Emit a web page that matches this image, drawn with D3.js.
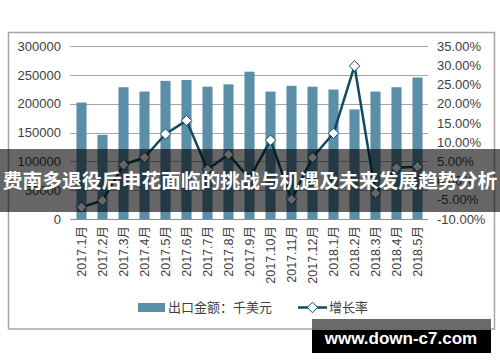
<!DOCTYPE html>
<html>
<head>
<meta charset="utf-8">
<script src="https://cdn.jsdelivr.net/npm/d3@7"></script>
<style>
  body { margin: 0; background: #fff; }
  svg { display: block; }
</style>
</head>
<body>
<svg id="chart" width="500" height="362"></svg>
<script>
// chart data
const months = ['2017.1月', '2017.2月', '2017.3月', '2017.4月', '2017.5月', '2017.6月', '2017.7月', '2017.8月', '2017.9月',
    '2017.10月', '2017.11月', '2017.12月', '2018.1月', '2018.2月', '2018.3月', '2018.4月', '2018.5月']
const exportValues = [202000, 146000, 228500, 221000, 239500, 241000, 229500, 233500, 255500,
    221000, 231000, 229500, 224500, 190000, 221000, 228500, 245500]
const growthRates = [-6.9, -5.2, 4.1, 6.0, 12.1, 15.6, 2.9, 6.8, 0.5,
    10.5, -4.9, 6.0, 12.3, 29.8, -3.3, 3.3, 3.6]
const leftTicks = [0, 50000, 100000, 150000, 200000, 250000, 300000]
const rightTicks = [-10, -5, 0, 5, 10, 15, 20, 25, 30, 35]

const barColor = '#5b8fa8'
const lineColor = '#0f4a5f'
const textColor = '#404040'
const font = '"Liberation Sans", Arial, "Noto Sans CJK SC", sans-serif'

const svg = d3.select('#chart')

//outer frame
svg.append('rect')
    .attr('x', 8.5).attr('y', 32.5)
    .attr('width', 486).attr('height', 296.5)
    .attr('fill', '#fff')
    .attr('stroke', '#a6a6a6')
    .attr('stroke-width', 1.5)

//scales
const x = d3.scaleBand()
    .domain(months)
    .range([71, 428])
    .paddingInner(0.52)
    .paddingOuter(0.26)

const xc = d => x(d) + x.bandwidth() / 2

const yL = d3.scaleLinear().domain([0, 300000]).range([219, 46])
const yR = d3.scaleLinear().domain([-10, 35]).range([219, 46])

//gridlines
svg.append('g')
    .selectAll('line')
    .data(leftTicks.filter(d => d > 0))
    .join('line')
    .attr('x1', 70).attr('x2', 428)
    .attr('y1', d => Math.round(yL(d)) + 0.5)
    .attr('y2', d => Math.round(yL(d)) + 0.5)
    .attr('stroke', '#a6a6a6')

//left axis
const leftAxis = svg.append('g')
    .attr('transform', 'translate(70,0)')
    .call(d3.axisLeft(yL).tickValues(leftTicks).tickSize(0).tickPadding(9).tickFormat(d3.format('d')))
leftAxis.select('.domain').remove()
leftAxis.selectAll('text')
    .attr('font-family', font)
    .attr('font-size', '13px')
    .attr('fill', textColor)

//right axis
const rightAxis = svg.append('g')
    .attr('transform', 'translate(428,0)')
    .call(d3.axisRight(yR).tickValues(rightTicks).tickSize(0).tickPadding(9).tickFormat(d => d.toFixed(2) + '%'))
rightAxis.select('.domain').remove()
rightAxis.selectAll('text')
    .attr('font-family', font)
    .attr('font-size', '13px')
    .attr('fill', textColor)

//bars
svg.append('g')
    .selectAll('rect')
    .data(exportValues)
    .join('rect')
    .attr('x', (d, i) => x(months[i]))
    .attr('y', d => yL(d))
    .attr('width', x.bandwidth())
    .attr('height', d => yL(0) - yL(d))
    .attr('fill', barColor)

//baseline
svg.append('line')
    .attr('x1', 70).attr('x2', 428)
    .attr('y1', 219.5).attr('y2', 219.5)
    .attr('stroke', '#8c8c8c')

//x axis labels
const xAxis = svg.append('g')
    .attr('transform', 'translate(0,219)')
    .call(d3.axisBottom(x).tickSize(0).tickPadding(0))
xAxis.select('.domain').remove()
xAxis.selectAll('text')
    .attr('font-family', font)
    .attr('font-size', '12.5px')
    .attr('fill', textColor)
    .attr('text-anchor', 'end')
    .attr('transform', 'rotate(-90)')
    .attr('x', -7)
    .attr('y', 0)
    .attr('dy', '0.36em')

//growth line
const line = d3.line()
    .x((d, i) => xc(months[i]))
    .y(d => yR(d))

svg.append('path')
    .datum(growthRates)
    .attr('fill', 'none')
    .attr('stroke', lineColor)
    .attr('stroke-width', 2.5)
    .attr('stroke-linejoin', 'round')
    .attr('d', line)

const diamond = d3.symbol().type(d3.symbolDiamond2).size(70)

svg.append('g')
    .selectAll('path')
    .data(growthRates)
    .join('path')
    .attr('transform', (d, i) => `translate(${xc(months[i])},${yR(d)})`)
    .attr('d', diamond)
    .attr('fill', '#fff')
    .attr('stroke', lineColor)
    .attr('stroke-width', 1)

//legend
const legend = svg.append('g')
legend.append('rect')
    .attr('x', 138).attr('y', 303)
    .attr('width', 27).attr('height', 9)
    .attr('fill', barColor)
legend.append('text')
    .attr('x', 168).attr('y', 307.5)
    .attr('dy', '0.36em')
    .attr('font-family', font)
    .attr('font-size', '13px')
    .attr('fill', textColor)
    .text('出口金额：千美元')
legend.append('line')
    .attr('x1', 298).attr('x2', 327)
    .attr('y1', 307.5).attr('y2', 307.5)
    .attr('stroke', lineColor)
    .attr('stroke-width', 2.5)
legend.append('path')
    .attr('transform', 'translate(312.5,307.5)')
    .attr('d', diamond)
    .attr('fill', '#fff')
    .attr('stroke', lineColor)
legend.append('text')
    .attr('x', 329).attr('y', 307.5)
    .attr('dy', '0.36em')
    .attr('font-family', font)
    .attr('font-size', '13px')
    .attr('fill', textColor)
    .text('增长率')

//title banner over the chart
svg.append('rect')
    .attr('x', 0).attr('y', 149)
    .attr('width', 500).attr('height', 63)
    .attr('fill', 'rgba(0,0,0,0.6)')
svg.append('text')
    .attr('x', 250).attr('y', 181)
    .attr('dy', '0.36em')
    .attr('text-anchor', 'middle')
    .attr('font-family', '"Noto Sans CJK SC", sans-serif')
    .attr('font-weight', 'bold')
    .attr('font-size', '19.8px')
    .attr('fill', '#fff')
    .text('费南多退役后申花面临的挑战与机遇及未来发展趋势分析')

//watermark
svg.append('rect')
    .attr('x', 312).attr('y', 319)
    .attr('width', 179).attr('height', 11)
    .attr('fill', '#6a6a6a')
svg.append('rect')
    .attr('x', 312).attr('y', 330)
    .attr('width', 179).attr('height', 23)
    .attr('fill', '#000')
svg.append('text')
    .attr('x', 401).attr('y', 344)
    .attr('text-anchor', 'middle')
    .attr('font-family', '"Liberation Sans", Arial, sans-serif')
    .attr('font-weight', 'bold')
    .attr('font-size', '17px')
    .attr('fill', '#fff')
    .text('www.down-c7.com')
</script>
</body>
</html>
